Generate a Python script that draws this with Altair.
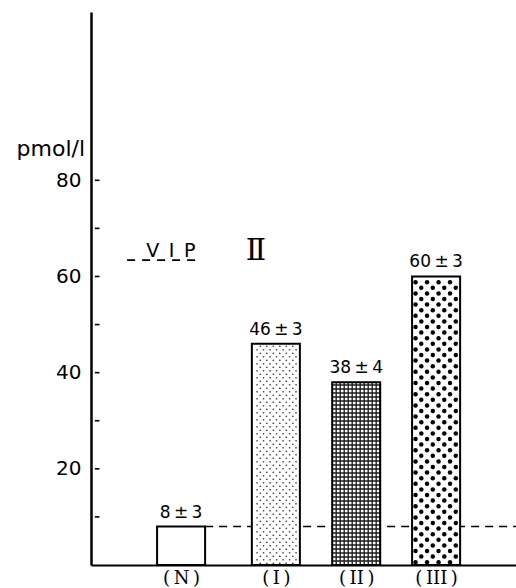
import altair as alt
import pandas as pd

# Plasma VIP levels (pmol/l), mean ± SEM per group
groups = ["(N)", "(I)", "(II)", "(III)"]
means = [8, 46, 38, 60]
sems = [3, 3, 4, 3]
y_labels = [20, 40, 60, 80]
y_ticks = [10, 20, 30, 40, 50, 60, 70, 80]

# horizontal layout of the bars (x axis runs 0..100)
centers = [21.2, 43.5, 62.4, 81.2]
bar_w = 11.3

W, H = 425, 553
X_MAX, Y_MAX = 100, 115
PX = W / X_MAX          # pixels per x unit
PY = H / Y_MAX          # pixels per y unit

xs = alt.Scale(domain=[0, X_MAX], nice=False, zero=False)
ys = alt.Scale(domain=[0, Y_MAX], nice=False, zero=False)


def spaced(g):
    return g.replace("(", "(\u2009").replace(")", "\u2009)")


label_expr = " : ".join(f"datum.value == {c} ? '{spaced(g)}'" for c, g in zip(centers, groups)) + " : ''"
xaxis = alt.Axis(values=centers, labelExpr=label_expr, ticks=False, grid=False,
                 domainColor="black", domainWidth=2.2, labelFont="DejaVu Serif",
                 labelFontSize=18, labelColor="black", labelPadding=4, title=None)
yaxis = alt.Axis(values=y_labels, ticks=False, grid=False, domainColor="black",
                 domainWidth=2.5, labelFont="DejaVu Sans", labelFontSize=20,
                 labelColor="black", labelPadding=10, labelBaseline="middle", title=None)


def X(field):
    return alt.X(field, type="quantitative", scale=xs, axis=xaxis, title=None)


def Y(field):
    return alt.Y(field, type="quantitative", scale=ys, axis=yaxis, title=None)


bars = pd.DataFrame({
    "group": groups,
    "mean": means,
    "sem": sems,
    "center": centers,
    "left": [c - bar_w / 2 for c in centers],
    "right": [c + bar_w / 2 for c in centers],
    "base": 0,
    "label": [f"{m}\u2009±\u2009{s}" for m, s in zip(means, sems)],
})

# dashed line at the normal level, running right from the (N) bar
normal = pd.DataFrame({"y": [means[0]], "x1": [bars["right"][0]], "x2": [X_MAX]})
normal_line = alt.Chart(normal).mark_rule(color="black", strokeWidth=1.5, strokeDash=[8, 6]).encode(
    x=X("x1"), x2="x2", y=Y("y"))

bar_fill = alt.Chart(bars).mark_rect(fill="white", strokeWidth=0).encode(
    x=X("left"), x2="right", y=Y("mean"), y2="base")

bar_outline = alt.Chart(bars).mark_rect(fill=None, stroke="black", strokeWidth=2).encode(
    x=X("left"), x2="right", y=Y("mean"), y2="base")


def dot_texture(k, dx_px, dy_px, size, color, margin_px=2.0):
    """Staggered dot screen filling bar k."""
    left = centers[k] - bar_w / 2
    right = centers[k] + bar_w / 2
    top = means[k]
    dx, dy = dx_px / PX, dy_px / PY
    cols = int(bar_w / dx) + 2
    rows = int(top / dy) + 1
    mx, my = margin_px / PX, margin_px / PY
    return (
        alt.Chart(alt.sequence(0, cols * rows, as_="i"))
        .transform_calculate(row=f"floor(datum.i / {cols})", col=f"datum.i % {cols}")
        .transform_calculate(
            px=f"{left} + (0.3 + datum.col + (datum.row % 2) * 0.5) * {dx}",
            py=f"(datum.row + 0.5) * {dy}",
        )
        .transform_filter(f"datum.px > {left + mx} && datum.px < {right - mx} && datum.py < {top - my}")
        .mark_circle(size=size, color=color, opacity=1)
        .encode(x=X("px"), y=Y("py"))
    )


def grid_texture(k, step_px, color, width):
    """Square mesh filling bar k."""
    left = centers[k] - bar_w / 2
    right = centers[k] + bar_w / 2
    top = means[k]
    dx, dy = step_px / PX, step_px / PY
    ncol = int(bar_w / dx) + 1
    nrow = int(top / dy) + 1
    verticals = (
        alt.Chart(alt.sequence(1, ncol, as_="c"))
        .transform_calculate(px=f"{left} + datum.c * {dx}", y0="0", y1=f"{top}")
        .transform_filter(f"datum.px < {right}")
        .mark_rule(color=color, strokeWidth=width)
        .encode(x=X("px"), y=Y("y0"), y2="y1")
    )
    horizontals = (
        alt.Chart(alt.sequence(1, nrow, as_="r"))
        .transform_calculate(py=f"datum.r * {dy}", x0=f"{left}", x1=f"{right}")
        .transform_filter(f"datum.py < {top}")
        .mark_rule(color=color, strokeWidth=width)
        .encode(x=X("x0"), x2="x1", y=Y("py"))
    )
    return verticals + horizontals


tex_I = dot_texture(1, 6.5, 3.5, 3, "#444444", margin_px=2.0)
tex_II = grid_texture(2, 4.0, "#1a1a1a", 1.3)
tex_III = dot_texture(3, 11.5, 5.6, 20, "black", margin_px=2.5)

value_text = alt.Chart(bars).mark_text(
    font="DejaVu Sans", fontSize=17, baseline="bottom", dy=-5, color="black"
).encode(x=X("center"), y=Y("mean"), text="label:N")

ticks = pd.DataFrame({"v": y_ticks, "a": 0.9, "b": 2.0})
y_tick_marks = alt.Chart(ticks).mark_rule(color="black", strokeWidth=1.6).encode(
    x=X("a"), x2="b", y=Y("v"))

unit = pd.DataFrame({"x": [-1.4], "y": [86.5], "t": ["pmol/l"]})
unit_text = alt.Chart(unit).mark_text(
    font="DejaVu Sans", fontSize=22, align="right", baseline="middle", color="black"
).encode(x=X("x"), y=Y("y"), text="t:N")

panel = pd.DataFrame({"x": [18.8], "y": [64.0], "t": ["V\u2002I\u2002P"]})
panel_text = alt.Chart(panel).mark_text(
    font="DejaVu Sans", fontSize=19, align="center", baseline="alphabetic", color="black"
).encode(x=X("x"), y=Y("y"), text="t:N")

panel_rule = pd.DataFrame({"x1": [8.5], "x2": [26.1], "y": [63.4]})
panel_underline = alt.Chart(panel_rule).mark_rule(
    color="black", strokeWidth=1.6, strokeDash=[8, 7]
).encode(x=X("x1"), x2="x2", y=Y("y"))

series = pd.DataFrame({"x": [38.8], "y": [63.4], "t": ["Ⅱ"]})
series_text = alt.Chart(series).mark_text(
    font="DejaVu Serif", fontSize=30, align="center", baseline="alphabetic", color="black"
).encode(x=X("x"), y=Y("y"), text="t:N")

chart = alt.layer(
    normal_line, bar_fill, tex_I, tex_II, tex_III, bar_outline, value_text,
    y_tick_marks, unit_text, panel_text, panel_underline, series_text,
).properties(
    width=W, height=H,
    autosize=alt.AutoSizeParams(type="none"),
    padding={"left": 91, "top": 12, "right": 0, "bottom": 23},
    background="white",
).configure_view(stroke=None)

chart.save("out.html", embed_options={"renderer": "svg", "actions": False})
